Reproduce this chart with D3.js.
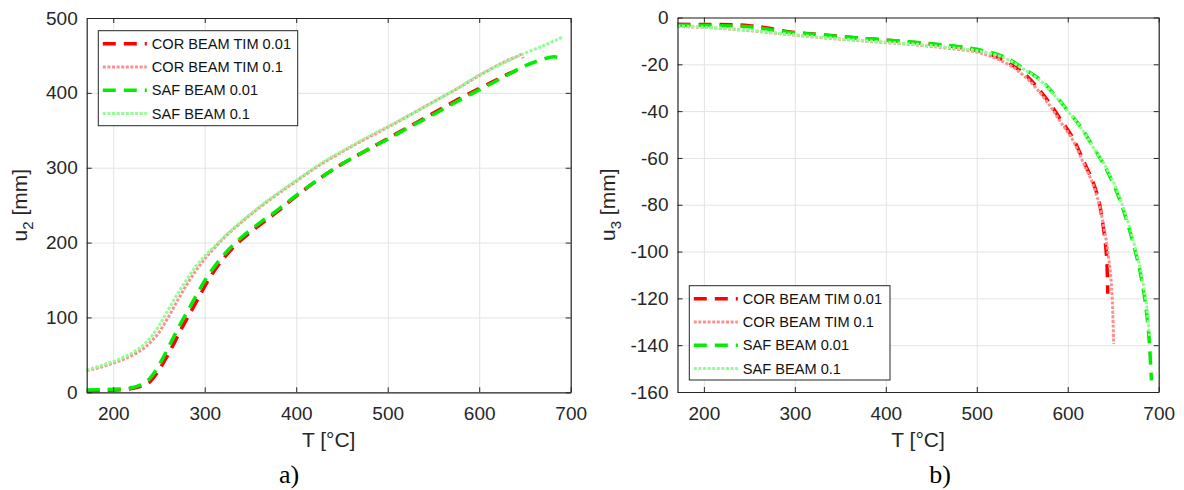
<!DOCTYPE html>
<html>
<head>
<meta charset="utf-8">
<script src="https://cdnjs.cloudflare.com/ajax/libs/d3/7.8.5/d3.min.js"></script>
<style>
  body { margin: 0; background: #fff; }
  svg { display: block; font-family: "Liberation Sans", Arial, Helvetica, sans-serif; }
</style>
</head>
<body>
<svg width="1184" height="490"></svg>
<script>
// ---- data: a) u2 (horizontal displacement) vs temperature ----
const u2CorTim001T = [171, 200, 220, 232, 240, 248, 256, 265, 275, 285, 295, 305, 320, 335, 350, 365, 380, 400, 425, 450, 475, 500, 525, 550, 575, 600, 620, 635, 641, 644];
const u2CorTim001 = [2, 3, 5, 9, 14, 26, 42, 62, 86, 108, 130, 152, 178, 198, 214, 228, 242, 262, 285, 305, 322, 339, 356, 373, 390, 406, 418, 427, 429, 423];
const u2CorTim01T = [171, 185, 200, 215, 230, 240, 250, 260, 270, 280, 290, 300, 310, 325, 340, 360, 380, 400, 425, 450, 475, 500, 525, 550, 575, 600, 625, 640, 646, 648];
const u2CorTim01 = [29, 33, 39, 46, 56, 66, 80, 100, 122, 143, 162, 178, 192, 211, 227, 247, 265, 282, 303, 321, 338, 354, 371, 388, 405, 423, 440, 448, 451, 446];
const u2Saf001T = [171, 200, 220, 230, 238, 246, 254, 262, 272, 282, 292, 302, 317, 332, 347, 362, 378, 400, 425, 450, 475, 500, 525, 550, 575, 600, 625, 650, 665, 680, 687, 692];
const u2Saf001 = [3, 4, 6, 10, 16, 28, 45, 64, 88, 110, 132, 153, 178, 198, 214, 228, 242, 263, 285, 305, 322, 338, 355, 371, 388, 404, 420, 436, 443, 448, 447, 442];
const u2Saf01T = [171, 185, 200, 215, 230, 240, 250, 260, 270, 280, 290, 300, 310, 325, 340, 360, 380, 400, 425, 450, 475, 500, 525, 550, 575, 600, 625, 650, 670, 685, 692];
const u2Saf01 = [30, 35, 41, 49, 60, 72, 89, 110, 131, 150, 168, 182, 194, 212, 228, 248, 266, 283, 304, 322, 339, 355, 371, 388, 405, 424, 439, 453, 463, 471, 475];

// ---- data: b) u3 (vertical displacement) vs temperature ----
const u3CorTim001T = [171, 200, 230, 250, 270, 295, 320, 345, 370, 395, 420, 445, 470, 500, 520, 540, 555, 566, 580, 592, 605, 617, 627, 634, 638, 641, 643, 644];
const u3CorTim001 = [-2.9, -3.0, -3.1, -3.5, -4.5, -6.2, -7.1, -7.9, -8.8, -9.5, -10.3, -11.2, -12.2, -14.0, -16.5, -20.5, -25, -29.6, -36.5, -43.5, -51, -61, -69.5, -78, -86.6, -95, -104, -118];
const u3CorTim01T = [171, 200, 230, 260, 290, 320, 350, 380, 410, 440, 470, 500, 520, 540, 555, 566, 580, 592, 605, 617, 627, 634, 639, 643, 647, 649, 650.5];
const u3CorTim01 = [-3.8, -4.3, -5.0, -6.0, -7.2, -8.3, -9.3, -10.2, -11.0, -12.0, -13.2, -14.8, -17.3, -21.3, -26, -30.5, -37.5, -44.5, -52, -62, -70.5, -79, -88, -97, -109.4, -121, -139.5];
const u3Saf001T = [171, 200, 230, 250, 270, 295, 320, 345, 370, 395, 420, 445, 470, 500, 530, 551, 570, 586, 601, 614, 628, 639, 650, 660, 667, 674, 680, 685, 689, 692];
const u3Saf001 = [-3.3, -3.4, -3.6, -4.0, -5.0, -6.4, -7.2, -8.0, -8.8, -9.5, -10.2, -11.0, -12.0, -13.6, -16.8, -21.7, -26.7, -33.2, -40.3, -46.6, -55.3, -62.4, -70.9, -80.9, -89.5, -99.5, -109.4, -121, -135, -155];
const u3Saf01T = [171, 200, 230, 260, 290, 320, 350, 380, 410, 440, 470, 500, 530, 551, 570, 586, 601, 614, 628, 640, 651, 661, 668, 675, 681, 686, 690];
const u3Saf01 = [-3.6, -4.1, -4.8, -5.8, -7.0, -8.1, -9.1, -10.0, -10.8, -11.7, -12.8, -14.2, -17.2, -22.0, -27, -33.5, -40.5, -46.8, -55.5, -62.6, -71, -81, -89.6, -99.6, -109.5, -121, -136];

const seriesNames = ["COR BEAM TIM 0.01", "COR BEAM TIM 0.1", "SAF BEAM 0.01", "SAF BEAM 0.1"];
const xTicks = [200, 300, 400, 500, 600, 700];
const u2Ticks = [0, 100, 200, 300, 400, 500];
const u3Ticks = [0, -20, -40, -60, -80, -100, -120, -140, -160];

// styles per series (same order as names)
const seriesColors = ["#ff0000", "#ff8f8f", "#00ee00", "#8fff8f"];
const seriesDash = ["13 8", "3 1.6", "13 8", "3 1.6"];
const seriesWidth = [3.5, 3, 3.5, 3];

const axisColor = "#262626";
const gridColor = "#e3e3e3";

const svg = d3.select("svg");

function zip(ts, us) {
    return ts.map((t, i) => ({ t: t, u: us[i] }));
}

function drawPanel(cfg) {
    const { left, right, top, bottom } = cfg.box;
    const width = right - left;
    const height = bottom - top;

    const x = d3.scaleLinear().domain([171, 700]).range([0, width]);
    const y = d3.scaleLinear().domain(cfg.yDomain).range([height, 0]);

    const g = svg.append("g").attr("transform", `translate(${left},${top})`);

    // grid
    g.append("g")
        .attr("transform", `translate(0,${height})`)
        .call(d3.axisBottom(x).tickValues(xTicks).tickSize(-height).tickFormat(""))
        .call(a => a.select(".domain").remove())
        .selectAll("line").attr("stroke", gridColor);
    g.append("g")
        .call(d3.axisLeft(y).tickValues(cfg.yTicks).tickSize(-width).tickFormat(""))
        .call(a => a.select(".domain").remove())
        .selectAll("line").attr("stroke", gridColor);

    // lines
    const line = d3.line()
        .x(d => x(d.t))
        .y(d => y(d.u))
        .curve(d3.curveCatmullRom.alpha(0.5));

    const plot = g.append("g");
    cfg.series.forEach((s, i) => {
        plot.append("path")
            .datum(s)
            .attr("fill", "none")
            .attr("stroke", seriesColors[i])
            .attr("stroke-width", seriesWidth[i])
            .attr("stroke-dasharray", seriesDash[i])
            .attr("d", line);
    });

    // axes (inward ticks on all four sides)
    const bottomAxis = g.append("g")
        .attr("transform", `translate(0,${height})`)
        .call(d3.axisBottom(x).tickValues(xTicks).tickSize(-5).tickSizeOuter(0).tickFormat(d => String(d)));
    bottomAxis.selectAll("text").attr("y", 28).attr("dy", 0);

    g.append("g")
        .call(d3.axisTop(x).tickValues(xTicks).tickSize(-5).tickSizeOuter(0).tickFormat(""));

    g.append("g")
        .call(d3.axisLeft(y).tickValues(cfg.yTicks).tickSize(-5).tickSizeOuter(0).tickPadding(9).tickFormat(d => String(d)));

    g.append("g")
        .attr("transform", `translate(${width},0)`)
        .call(d3.axisRight(y).tickValues(cfg.yTicks).tickSize(-5).tickSizeOuter(0).tickFormat(""));

    g.selectAll(".domain").attr("stroke", axisColor).attr("stroke-width", 1.2);
    g.selectAll(".tick line").filter(function () { return this.getAttribute("stroke") !== gridColor; })
        .attr("stroke", axisColor);
    g.selectAll(".tick text")
        .attr("fill", axisColor)
        .style("font-size", "19px")
        .style("font-family", "'Liberation Sans', Arial, sans-serif");

    // axis titles
    svg.append("text")
        .attr("x", left + width / 2)
        .attr("y", 447)
        .attr("text-anchor", "middle")
        .attr("fill", axisColor)
        .style("font-size", "21px")
        .text("T [°C]");

    const yt = svg.append("text")
        .attr("transform", `translate(${cfg.yTitleX},${top + height / 2}) rotate(-90)`)
        .attr("text-anchor", "middle")
        .attr("fill", axisColor)
        .style("font-size", "21px");
    yt.append("tspan").text("u");
    yt.append("tspan").attr("dy", 6).style("font-size", "15px").text(cfg.yTitleSub);
    yt.append("tspan").attr("dy", -6).text(" [mm]");

    // legend
    const lg = svg.append("g").attr("transform", `translate(${cfg.legend.x},${cfg.legend.y})`);
    lg.append("rect")
        .attr("width", cfg.legend.w)
        .attr("height", cfg.legend.h)
        .attr("fill", "#fff")
        .attr("stroke", axisColor)
        .attr("stroke-width", 1);
    seriesNames.forEach((name, i) => {
        const ry = 13 + i * 23.3;
        lg.append("line")
            .attr("x1", 4.5).attr("x2", 48.5)
            .attr("y1", ry).attr("y2", ry)
            .attr("stroke", seriesColors[i])
            .attr("stroke-width", seriesWidth[i])
            .attr("stroke-dasharray", seriesDash[i]);
        lg.append("text")
            .attr("x", 53.5)
            .attr("y", ry)
            .attr("dy", "0.35em")
            .attr("fill", "#111")
            .style("font-size", "14.6px")
            .text(name);
    });

    // caption
    svg.append("text")
        .attr("x", cfg.captionX)
        .attr("y", 483)
        .attr("text-anchor", "middle")
        .attr("fill", "#000")
        .style("font-family", "'Liberation Serif', 'Times New Roman', serif")
        .style("font-size", "26px")
        .text(cfg.caption);
}

drawPanel({
    box: { left: 86.7, right: 570.7, top: 18, bottom: 392.3 },
    yDomain: [0, 500],
    yTicks: u2Ticks,
    series: [zip(u2CorTim001T, u2CorTim001), zip(u2CorTim01T, u2CorTim01), zip(u2Saf001T, u2Saf001), zip(u2Saf01T, u2Saf01)],
    yTitleX: 27,
    yTitleSub: "2",
    legend: { x: 98.3, y: 30.7, w: 199.4, h: 95 },
    caption: "a)",
    captionX: 289
});

drawPanel({
    box: { left: 677.5, right: 1158.7, top: 17.5, bottom: 392 },
    yDomain: [-160, 0],
    yTicks: u3Ticks,
    series: [zip(u3CorTim001T, u3CorTim001), zip(u3CorTim01T, u3CorTim01), zip(u3Saf001T, u3Saf001), zip(u3Saf01T, u3Saf01)],
    yTitleX: 615,
    yTitleSub: "3",
    legend: { x: 689.3, y: 285.7, w: 200.7, h: 94.3 },
    caption: "b)",
    captionX: 940
});
</script>
</body>
</html>
